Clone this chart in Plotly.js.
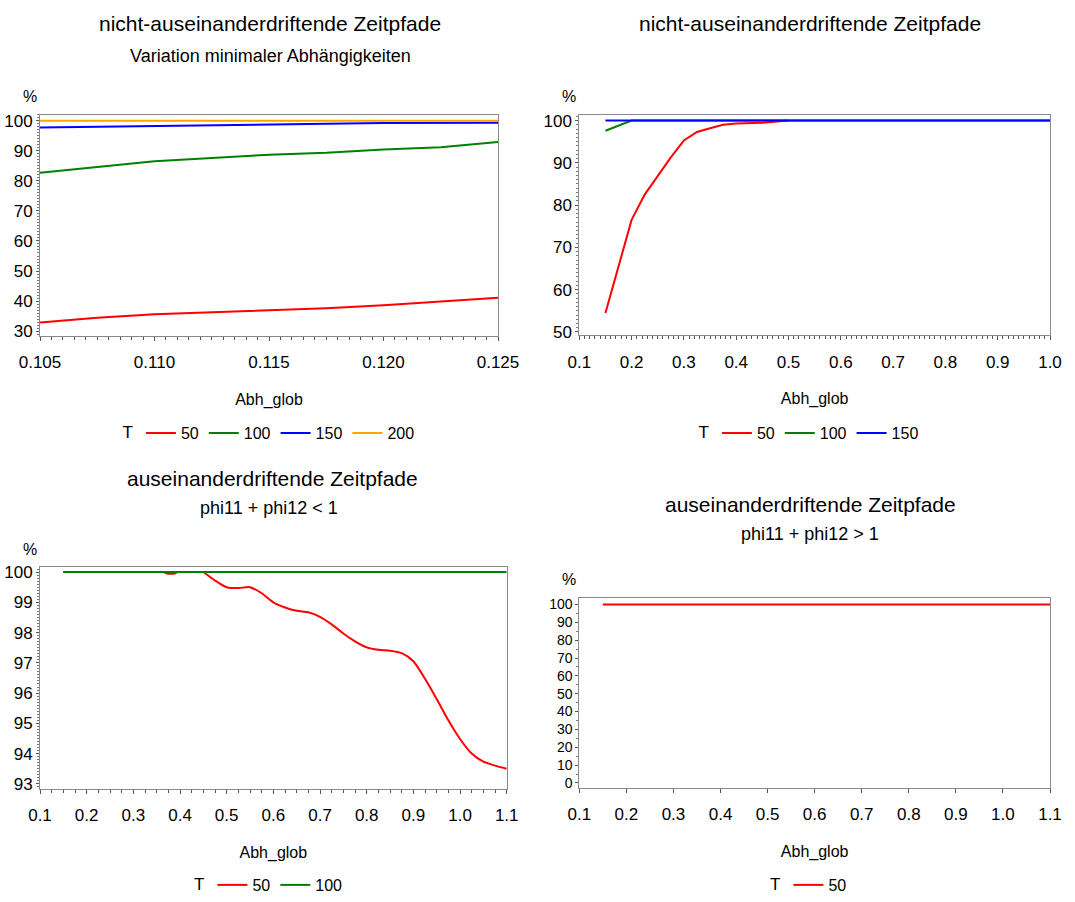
<!DOCTYPE html>
<html>
<head>
<meta charset="utf-8">
<script src="https://cdn.plot.ly/plotly-3.0.1.min.js"></script>
<style>html,body{margin:0;padding:0;background:#fff;}#chart{width:1075px;height:902px;}</style>
</head>
<body>
<div id="chart"></div>
<script>
// ---------- Panel 1: nicht-auseinanderdriftende Zeitpfade / Variation minimaler Abhängigkeiten
const p1_x    = [0.105, 0.1075, 0.110, 0.1125, 0.115, 0.1175, 0.120, 0.1225, 0.125];
const p1_T50  = [32.9, 34.5, 35.6, 36.2, 36.8, 37.6, 38.6, 39.8, 41.1];
const p1_T100 = [82.7, 84.5, 86.5, 87.6, 88.7, 89.3, 90.4, 91.2, 92.9];
const p1_T150 = [97.7, 98.0, 98.3, 98.5, 98.8, 99.0, 99.2, 99.3, 99.3];
const p1_T200 = [100, 100, 100, 100, 100, 100, 100, 100, 100];

// ---------- Panel 2: nicht-auseinanderdriftende Zeitpfade
const p2_x50  = [0.15, 0.175, 0.2, 0.225, 0.25, 0.275, 0.3, 0.325, 0.35, 0.375, 0.4, 0.45, 0.5];
const p2_T50  = [54.5, 65.5, 76.5, 82.5, 87.0, 91.3, 95.3, 97.3, 98.2, 99.0, 99.3, 99.5, 100];
const p2_x    = [0.15, 0.2, 0.25, 0.3, 0.35, 0.4, 0.45, 0.5, 0.55, 0.6, 0.65, 0.7, 0.75, 0.8, 0.85, 0.9, 0.95, 1.0];
const p2_T100 = [97.6, 100, 100, 100, 100, 100, 100, 100, 100, 100, 100, 100, 100, 100, 100, 100, 100, 100];
const p2_T150 = [100, 100, 100, 100, 100, 100, 100, 100, 100, 100, 100, 100, 100, 100, 100, 100, 100, 100];

// ---------- Panel 3: auseinanderdriftende Zeitpfade, phi11 + phi12 < 1
// (null splits the smoothed line into a flat part and a declining part at 0.45)
const p3_x50  = [0.15, 0.2, 0.25, 0.3, 0.35, 0.365, 0.372, 0.38, 0.388, 0.395, 0.41, 0.43, 0.45, 0.45, 0.45, 0.475, 0.5, 0.525, 0.55, 0.575, 0.6, 0.625, 0.65, 0.675, 0.7, 0.725, 0.75, 0.775, 0.8, 0.825, 0.85, 0.875, 0.9, 0.925, 0.95, 0.975, 1.0, 1.025, 1.05, 1.075, 1.1];
const p3_T50  = [100, 100, 100, 100, 100, 100, 99.95, 99.94, 99.95, 100, 100, 100, 100, null, 100, 99.72, 99.5, 99.47, 99.5, 99.3, 99.0, 98.83, 98.72, 98.67, 98.52, 98.27, 97.97, 97.71, 97.51, 97.43, 97.4, 97.32, 97.05, 96.47, 95.8, 95.1, 94.48, 94.0, 93.73, 93.6, 93.5];
const p3_x100 = [0.15, 0.2, 0.3, 0.4, 0.5, 0.6, 0.7, 0.8, 0.9, 1.0, 1.1];
const p3_T100 = [100, 100, 100, 100, 100, 100, 100, 100, 100, 100, 100];

// ---------- Panel 4: auseinanderdriftende Zeitpfade, phi11 + phi12 > 1
const p4_x    = [0.15, 0.2, 0.3, 0.4, 0.5, 0.6, 0.7, 0.8, 0.9, 1.0, 1.1];
const p4_T50  = [100, 100, 100, 100, 100, 100, 100, 100, 100, 100, 100];

// ---------- Texts
const titles = ["nicht-auseinanderdriftende Zeitpfade", "nicht-auseinanderdriftende Zeitpfade",
                "auseinanderdriftende Zeitpfade", "auseinanderdriftende Zeitpfade"];
const subtitles = ["Variation minimaler Abhängigkeiten", "", "phi11 + phi12 < 1", "phi11 + phi12 > 1"];
const xTitle = "Abh_glob";
const yUnit = "%";
const legendTitle = "T";

const COLORS = {"50": "#FF0000", "100": "#008000", "150": "#0000FF", "200": "#FFA500"};
const FONT = '"Liberation Sans", Arial, sans-serif';

function tr(x, y, name, xa, ya, leg, shape) {
  return {x: x, y: y, name: name, type: "scatter", mode: "lines",
          xaxis: xa, yaxis: ya, legend: leg, connectgaps: false,
          line: {color: COLORS[name], width: 2, shape: shape || "linear", smoothing: 0.7},
          hoverinfo: "x+y+name"};
}

const data = [
  tr(p1_x, p1_T50, "50", "x", "y", "legend"),
  tr(p1_x, p1_T100, "100", "x", "y", "legend"),
  tr(p1_x, p1_T150, "150", "x", "y", "legend"),
  tr(p1_x, p1_T200, "200", "x", "y", "legend"),
  tr(p2_x50, p2_T50, "50", "x2", "y2", "legend2"),
  tr(p2_x, p2_T100, "100", "x2", "y2", "legend2"),
  tr(p2_x, p2_T150, "150", "x2", "y2", "legend2"),
  tr(p3_x50, p3_T50, "50", "x3", "y3", "legend3", "spline"),
  tr(p3_x100, p3_T100, "100", "x3", "y3", "legend3"),
  tr(p4_x, p4_T50, "50", "x4", "y4", "legend4")
];

const W = 1075, H = 902;
const tickFont = {family: FONT, size: 17, color: "#000"};

function xax(domain, range, dtick, fmt, minorD, anchor) {
  const a = {domain: domain, range: range, anchor: anchor, tickmode: "linear", tick0: range[0], dtick: dtick,
    tickformat: fmt, ticks: "outside", ticklen: 4, tickwidth: 1, tickcolor: "#555",
    ticklabelstandoff: 7,
    showline: true, mirror: true, linecolor: "#8a8a8a", linewidth: 1,
    showgrid: false, zeroline: false, tickfont: tickFont, automargin: false,
    title: {text: xTitle, font: {family: FONT, size: 16, color: "#000"}, standoff: 22}};
  if (minorD) a.minor = {dtick: minorD, ticks: "outside", ticklen: 3, tickwidth: 1, tickcolor: "#555", showgrid: false};
  return a;
}
function yax(domain, range, dtick, minorD, anchor, fsize) {
  return {domain: domain, range: range, anchor: anchor, tickmode: "linear", tick0: 0, dtick: dtick,
    ticks: "outside", ticklen: 3, tickwidth: 1, tickcolor: "#555",
    showline: true, mirror: true, linecolor: "#8a8a8a", linewidth: 1,
    showgrid: false, zeroline: false, tickfont: {family: FONT, size: fsize || 17, color: "#000"},
    automargin: false,
    minor: {dtick: minorD, ticks: "outside", ticklen: 2, tickwidth: 1, tickcolor: "#777", showgrid: false}};
}
function px(xp) { return xp / W; }
function py(yp) { return 1 - yp / H; }

function ann(text, xp, yp, font) {
  return {text: text, x: px(xp), y: py(yp), xref: "paper", yref: "paper",
          xanchor: "center", yanchor: "middle", showarrow: false, font: font};
}
const titleFont = {family: FONT, size: 21, color: "#000"};
const subFont = {family: FONT, size: 18, color: "#000"};
const pctFont = {family: FONT, size: 16, color: "#000"};

function leg(xp, yp) {
  return {orientation: "h", x: px(xp), y: py(yp), xanchor: "center", yanchor: "middle",
          font: {family: FONT, size: 16, color: "#000"}, bgcolor: "rgba(0,0,0,0)",
          title: {text: legendTitle, side: "left", font: {family: FONT, size: 17, color: "#000"}},
          itemwidth: 30, tracegroupgap: 0};
}

const layout = {
  width: W, height: H, margin: {l: 0, r: 0, t: 0, b: 0},
  paper_bgcolor: "#fff", plot_bgcolor: "#fff", showlegend: true,
  xaxis:  xax([px(40), px(498)], [0.105, 0.125], 0.005, ".3f", 0.0005, "y"),
  yaxis:  yax([py(339), py(115.7)], [28.4, 102], 10, 1, "x"),
  xaxis2: xax([px(579.3), px(1050)], [0.1, 1.0], 0.1, ".1f", 0.01, "y2"),
  yaxis2: yax([py(338.3), py(115.7)], [49.2, 101.4], 10, 1, "x2"),
  xaxis3: xax([px(40), px(506.7)], [0.1, 1.1], 0.1, ".1f", 0.025, "y3"),
  yaxis3: yax([py(795.7), py(572.3)], [92.84, 100.16], 1, 0.1, "x3"),
  xaxis4: xax([px(579.3), px(1050)], [0.1, 1.1], 0.1, ".1f", null, "y4"),
  yaxis4: yax([py(795), py(603.3)], [-2.8, 103.7], 10, 5, "x4", 14),
  legend: leg(270, 437),
  legend2: leg(810, 437),
  legend3: leg(270, 893),
  legend4: leg(810, 893),
  annotations: [
    ann(titles[0], 269.5, 24, titleFont),
    ann(subtitles[0], 270.5, 56, subFont),
    ann(titles[1], 809.5, 24, titleFont),
    ann(titles[2], 272, 483, titleFont),
    ann(subtitles[2], 269, 513, subFont),
    ann(titles[3], 810, 509, titleFont),
    ann(subtitles[3], 810, 539, subFont),
    ann(yUnit, 30, 97, pctFont),
    ann(yUnit, 569, 97, pctFont),
    ann(yUnit, 30, 554, pctFont),
    ann(yUnit, 569, 585, pctFont)
  ]
};

Plotly.newPlot("chart", data, layout, {staticPlot: true, displayModeBar: false});
</script>
</body>
</html>
